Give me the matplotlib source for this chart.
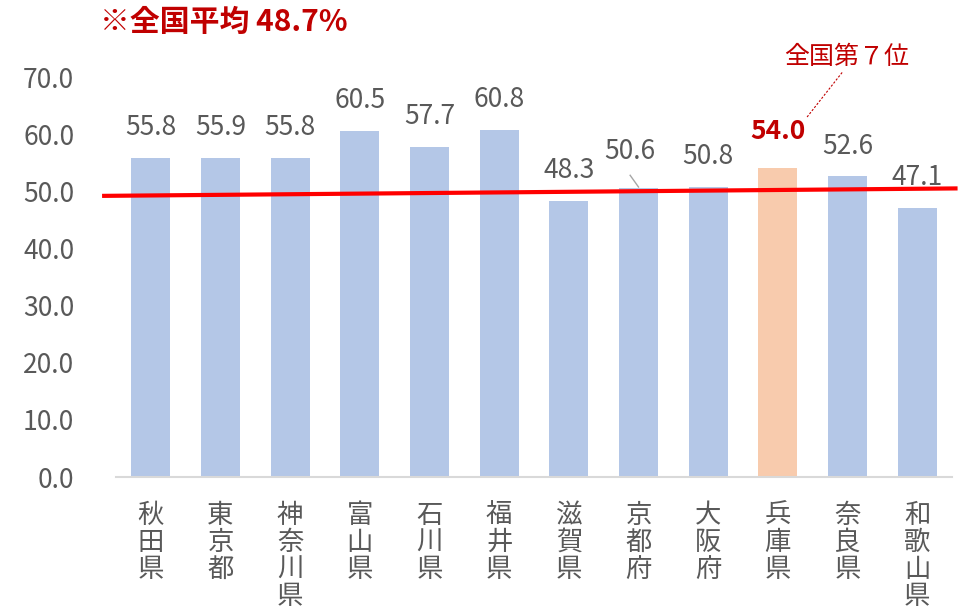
import matplotlib
matplotlib.use("Agg")
import matplotlib.pyplot as plt
from matplotlib.lines import Line2D

plt.rcParams['font.family'] = ['Noto Sans CJK JP', 'DejaVu Sans']

prefectures = ["秋田県", "東京都", "神奈川県", "富山県", "石川県", "福井県",
               "滋賀県", "京都府", "大阪府", "兵庫県", "奈良県", "和歌山県"]
values = [55.8, 55.9, 55.8, 60.5, 57.7, 60.8, 48.3, 50.6, 50.8, 54.0, 52.6, 47.1]
highlight = "兵庫県"
line_ends = [49.2, 50.5]
yticks = [0, 10, 20, 30, 40, 50, 60, 70]

BLUE = "#B4C7E7"
ORANGE = "#F8CBAD"
DARKRED = "#C00000"
GRAY = "#595959"

fig = plt.figure(figsize=(9.6, 6.12), dpi=100)
ax = fig.add_axes([116/960, 1-477/612, (952-116)/960, (477-77)/612])

x = list(range(len(prefectures)))
colors = [ORANGE if p == highlight else BLUE for p in prefectures]
ax.bar(x, values, width=0.56, color=colors, zorder=2)

ax.set_xlim(-0.5, len(prefectures) - 0.5)
ax.set_ylim(0, 70)
ax.set_yticks(yticks)
ax.set_yticklabels([f"{v:.1f}" for v in yticks], fontsize=19, color=GRAY)
ax.set_xticks(x)
ax.set_xticklabels(["\n".join(p) for p in prefectures], fontsize=19,
                   color=GRAY, linespacing=1.0)
ax.tick_params(axis='y', length=0, pad=30)
ax.tick_params(axis='x', length=0, pad=18)
for s in ("left", "right", "top"):
    ax.spines[s].set_visible(False)
ax.spines["bottom"].set_color("#D9D9D9")
ax.spines["bottom"].set_linewidth(1.5)

# national average line, slightly sloped, extending past the left edge
ax.add_line(Line2D([-0.67, 11.55], line_ends, color="#FF0000", lw=3.0,
                   zorder=3, clip_on=False))

# value labels
for i, (p, v) in enumerate(zip(prefectures, values)):
    if p == highlight:
        ax.text(i, v + 6.5, f"{v:.1f}", ha="center", va="center", fontsize=19,
                color=DARKRED, fontweight="bold", zorder=4)
    elif p == "京都府":
        ax.text(i - 0.12, v + 6.3, f"{v:.1f}", ha="center", va="center",
                fontsize=19, color=GRAY, zorder=4)
    else:
        ax.text(i, v + 5.3, f"{v:.1f}", ha="center", va="center", fontsize=19,
                color=GRAY, zorder=4)

# leader for the shifted 京都府 label
ki = prefectures.index("京都府")
ax.add_line(Line2D([ki - 0.12, ki], [values[ki] + 2.2, values[ki] + 0.15],
                   color="#A6A6A6", lw=1.0, zorder=4))

# rank annotation with dashed leader to the highlighted label
hi = prefectures.index(highlight)
ax.text(hi + 0.98, 73.5, "全国第７位", ha="center", va="center", fontsize=18,
        color=DARKRED, clip_on=False)
ax.add_line(Line2D([hi + 0.42, hi + 0.93], [values[hi] + 9.0, 70.9],
                   color=DARKRED, lw=0.8, ls=(0, (2, 1.5)), clip_on=False, zorder=4))

fig.text(100/960, 1-22/612, "※全国平均 48.7%", fontsize=21.5, fontweight="bold",
         color=DARKRED, ha="left", va="center")

fig.savefig("out.png", dpi=100)
